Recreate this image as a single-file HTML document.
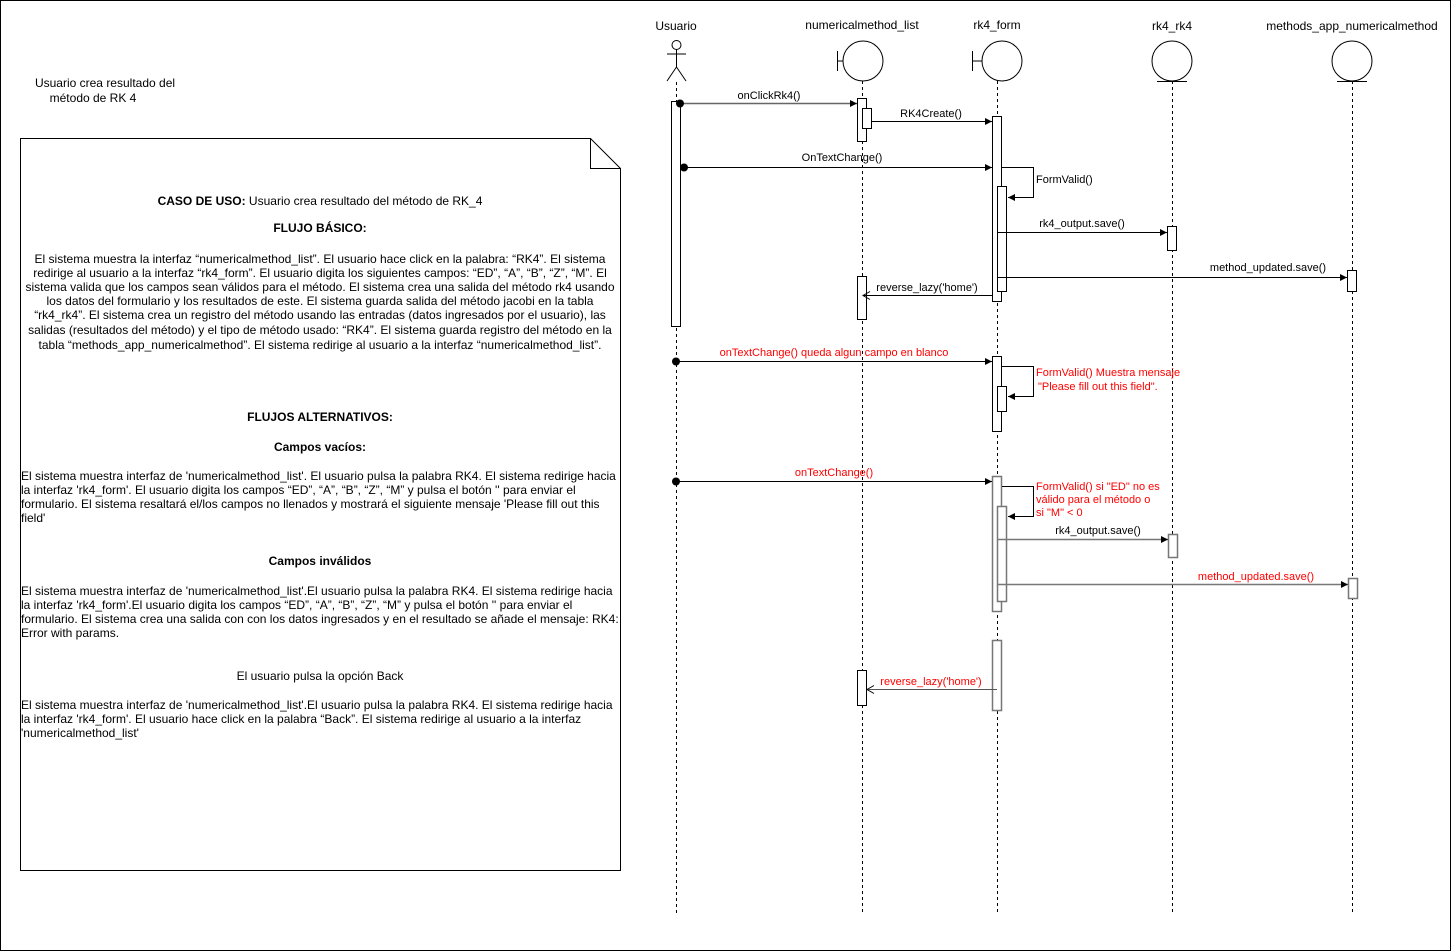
<!DOCTYPE html>
<html><head><meta charset="utf-8"><style>
html,body{margin:0;padding:0;background:#fff;}
svg{display:block;font-family:"Liberation Sans",Arial,sans-serif;font-size:11px;}
</style></head><body>
<svg width="1451" height="951" viewBox="0 0 1451 951" xmlns="http://www.w3.org/2000/svg">
<defs>
<marker id="a" markerWidth="8" markerHeight="8" refX="7" refY="4" orient="auto" markerUnits="userSpaceOnUse"><path d="M0,0.5 L7,4 L0,7.5 Z" fill="#000"/></marker>
<marker id="ag" markerWidth="8" markerHeight="8" refX="7" refY="4" orient="auto" markerUnits="userSpaceOnUse"><path d="M0,0.5 L7,4 L0,7.5 Z" fill="#000"/></marker>
<marker id="o" markerWidth="10" markerHeight="10" refX="8" refY="5" orient="auto" markerUnits="userSpaceOnUse"><path d="M1,1 L8,5 L1,9" fill="none" stroke="#000"/></marker>
</defs>
<rect x="0.5" y="0.5" width="1450" height="950" fill="#fff" stroke="#000"/>

<text x="105" y="87" text-anchor="middle" font-size="12">Usuario crea resultado del</text>
<text x="93" y="102" text-anchor="middle" font-size="12">método de RK 4</text>

<path d="M20.5,138.5 H590.5 L620.5,168.5 V870.5 H20.5 Z" fill="#fff" stroke="#000"/>
<path d="M590.5,138.5 V168.5 H620.5" fill="none" stroke="#000"/>
<g font-size="12">
<text x="320" y="205" text-anchor="middle"><tspan font-weight="bold">CASO DE USO:</tspan> Usuario crea resultado del método de RK_4</text>
<text x="320" y="232" text-anchor="middle" font-weight="bold">FLUJO BÁSICO:</text>
<text x="320" y="263" text-anchor="middle">El sistema muestra la interfaz “numericalmethod_list”. El usuario hace click en la palabra: “RK4”. El sistema</text>
<text x="320" y="277" text-anchor="middle">redirige al usuario a la interfaz “rk4_form”. El usuario digita los siguientes campos: “ED”, “A”, “B”, “Z”, “M”. El</text>
<text x="320" y="291" text-anchor="middle">sistema valida que los campos sean válidos para el método. El sistema crea una salida del método rk4 usando</text>
<text x="320" y="305" text-anchor="middle">los datos del formulario y los resultados de este. El sistema guarda salida del método jacobi en la tabla</text>
<text x="320" y="319" text-anchor="middle">“rk4_rk4”. El sistema crea un registro del método usando las entradas (datos ingresados por el usuario), las</text>
<text x="320" y="334" text-anchor="middle">salidas (resultados del método) y el tipo de método usado: “RK4”. El sistema guarda registro del método en la</text>
<text x="320" y="349" text-anchor="middle">tabla “methods_app_numericalmethod”.  El sistema redirige al usuario a la interfaz “numericalmethod_list”.</text>
<text x="320" y="421" text-anchor="middle" font-weight="bold">FLUJOS ALTERNATIVOS:</text>
<text x="320" y="451" text-anchor="middle" font-weight="bold">Campos vacíos:</text>
<text x="21" y="480">El sistema muestra interfaz de 'numericalmethod_list'. El usuario pulsa la palabra RK4. El sistema redirige hacia</text>
<text x="21" y="494">la interfaz 'rk4_form'. El usuario digita los campos “ED”, “A”, “B”, “Z”, “M” y pulsa el botón '' para enviar el</text>
<text x="21" y="508">formulario. El sistema resaltará el/los campos no llenados y mostrará el siguiente mensaje 'Please fill out this</text>
<text x="21" y="522">field'</text>
<text x="320" y="565" text-anchor="middle" font-weight="bold">Campos inválidos</text>
<text x="21" y="595">El sistema muestra interfaz de 'numericalmethod_list'.El usuario pulsa la palabra RK4. El sistema redirige hacia</text>
<text x="21" y="609">la interfaz 'rk4_form'.El usuario digita los campos “ED”, “A”, “B”, “Z”, “M” y pulsa el botón '' para enviar el</text>
<text x="21" y="623">formulario. El sistema crea una salida con con los datos ingresados y en el resultado se añade el mensaje: RK4:</text>
<text x="21" y="637">Error with params.</text>
<text x="320" y="680" text-anchor="middle">El usuario pulsa la opción Back</text>
<text x="21" y="709">El sistema muestra interfaz de 'numericalmethod_list'.El usuario pulsa la palabra RK4. El sistema redirige hacia</text>
<text x="21" y="723">la interfaz 'rk4_form'. El usuario hace click en la palabra “Back”. El sistema redirige al usuario a la interfaz</text>
<text x="21" y="737">'numericalmethod_list'</text>
</g>

<g font-size="12" text-anchor="middle">
<text x="676" y="30">Usuario</text>
<text x="862" y="29">numericalmethod_list</text>
<text x="997" y="29">rk4_form</text>
<text x="1172" y="30">rk4_rk4</text>
<text x="1352" y="30">methods_app_numericalmethod</text>
</g>

<g stroke="#000" stroke-dasharray="3,3" fill="none">
<line x1="676.5" y1="82" x2="676.5" y2="915"/>
<line x1="862.5" y1="81" x2="862.5" y2="915"/>
<line x1="997.5" y1="81" x2="997.5" y2="915"/>
<line x1="1172.5" y1="81" x2="1172.5" y2="915"/>
<line x1="1352.5" y1="81" x2="1352.5" y2="915"/>
</g>

<g stroke="#000" fill="none">
<circle cx="676.5" cy="45" r="4.5"/>
<line x1="676.5" y1="49.5" x2="676.5" y2="67"/>
<line x1="667" y1="54" x2="686" y2="54"/>
<line x1="676.5" y1="67" x2="667" y2="81"/>
<line x1="676.5" y1="67" x2="686" y2="81"/>
</g>
<g stroke="#000" fill="#fff">
<circle cx="863" cy="61" r="20"/>
<line x1="843" y1="61" x2="837" y2="61"/><line x1="837.5" y1="51" x2="837.5" y2="71"/>
<circle cx="1002" cy="61" r="20"/>
<line x1="982" y1="61" x2="972" y2="61"/><line x1="972.5" y1="51" x2="972.5" y2="71"/>
<circle cx="1172" cy="61" r="20"/>
<line x1="1157" y1="81.5" x2="1187" y2="81.5"/>
<circle cx="1352" cy="61" r="20"/>
<line x1="1337" y1="81.5" x2="1367" y2="81.5"/>
</g>

<g stroke="#000" fill="#fff">
<rect x="671.5" y="101.5" width="9" height="225"/>
<rect x="857.5" y="98.5" width="9" height="43"/>
<rect x="862.5" y="108.5" width="9" height="20"/>
<rect x="992.5" y="116.5" width="9" height="185"/>
<rect x="997.5" y="186.5" width="9" height="105"/>
<rect x="1167.5" y="226.5" width="9" height="24"/>
<rect x="1347.5" y="270.5" width="9" height="21"/>
<rect x="857.5" y="276.5" width="9" height="43"/>
<rect x="992.5" y="356.5" width="9" height="75"/>
<rect x="997.5" y="386.5" width="9" height="25"/>
</g>
<g stroke="#777" fill="#fff" stroke-width="1.5">
<rect x="992.5" y="476.5" width="9" height="135"/>
<rect x="997.5" y="506.5" width="9" height="95"/>
<rect x="1168.5" y="534.5" width="9" height="23"/>
<rect x="1348.5" y="578.5" width="9" height="20"/>
<rect x="992.5" y="640.5" width="9" height="70"/>
</g>
<rect x="857.5" y="670.5" width="9" height="35" stroke="#000" fill="#fff"/>

<g stroke="#000" fill="none">
<line x1="680" y1="103.5" x2="857" y2="103.5" stroke="#666" stroke-width="1.5" marker-end="url(#a)"/>
<line x1="871" y1="121.5" x2="992" y2="121.5" marker-end="url(#a)"/>
<line x1="684" y1="167.5" x2="992" y2="167.5" marker-end="url(#a)"/>
<path d="M1002,167.5 H1033.5 V197.5 H1008" marker-end="url(#a)"/>
<line x1="997" y1="232.5" x2="1167" y2="232.5" marker-end="url(#a)"/>
<line x1="997" y1="277.5" x2="1347" y2="277.5" marker-end="url(#a)"/>
<line x1="992" y1="295.5" x2="863" y2="295.5" marker-end="url(#o)"/>
<line x1="676" y1="361.5" x2="992" y2="361.5" marker-end="url(#a)"/>
<path d="M1002,366.5 H1033.5 V396.5 H1008" marker-end="url(#a)"/>
<line x1="676" y1="481.5" x2="992" y2="481.5" marker-end="url(#a)"/>
<path d="M1002,486.5 H1033.5 V516.5 H1008" marker-end="url(#a)"/>
<line x1="997" y1="539.5" x2="1168" y2="539.5" stroke="#777" stroke-width="1.5" marker-end="url(#ag)"/>
<line x1="997" y1="584.5" x2="1348" y2="584.5" stroke="#777" stroke-width="1.5" marker-end="url(#ag)"/>
<line x1="997" y1="689.5" x2="867" y2="689.5" stroke="#555" marker-end="url(#o)"/>
</g>
<g fill="#000">
<circle cx="680" cy="103.5" r="4"/>
<circle cx="684" cy="167.5" r="4"/>
<circle cx="676" cy="361.5" r="4"/>
<circle cx="676" cy="481.5" r="4"/>
</g>

<g font-size="11" text-anchor="middle">
<text x="769" y="99">onClickRk4()</text>
<text x="931" y="117">RK4Create()</text>
<text x="842" y="161">OnTextChange()</text>
<text x="1082" y="227">rk4_output.save()</text>
<text x="1268" y="271">method_updated.save()</text>
<text x="927" y="291">reverse_lazy('home')</text>
<text x="1098" y="534">rk4_output.save()</text>
</g>
<text x="1036" y="183" font-size="11">FormValid()</text>
<g font-size="11" fill="#ff0000">
<text x="834" y="356" text-anchor="middle">onTextChange() queda algun campo en blanco</text>
<text x="1036" y="376">FormValid() Muestra mensaje</text>
<text x="1038" y="390">"Please fill out this field".</text>
<text x="834" y="476" text-anchor="middle">onTextChange()</text>
<text x="1036" y="490">FormValid() si "ED" no es</text>
<text x="1036" y="503">válido para el método o</text>
<text x="1036" y="516">si "M" &lt; 0</text>
<text x="1256" y="580" text-anchor="middle">method_updated.save()</text>
<text x="931" y="685" text-anchor="middle">reverse_lazy('home')</text>
</g>
</svg>
</body></html>
